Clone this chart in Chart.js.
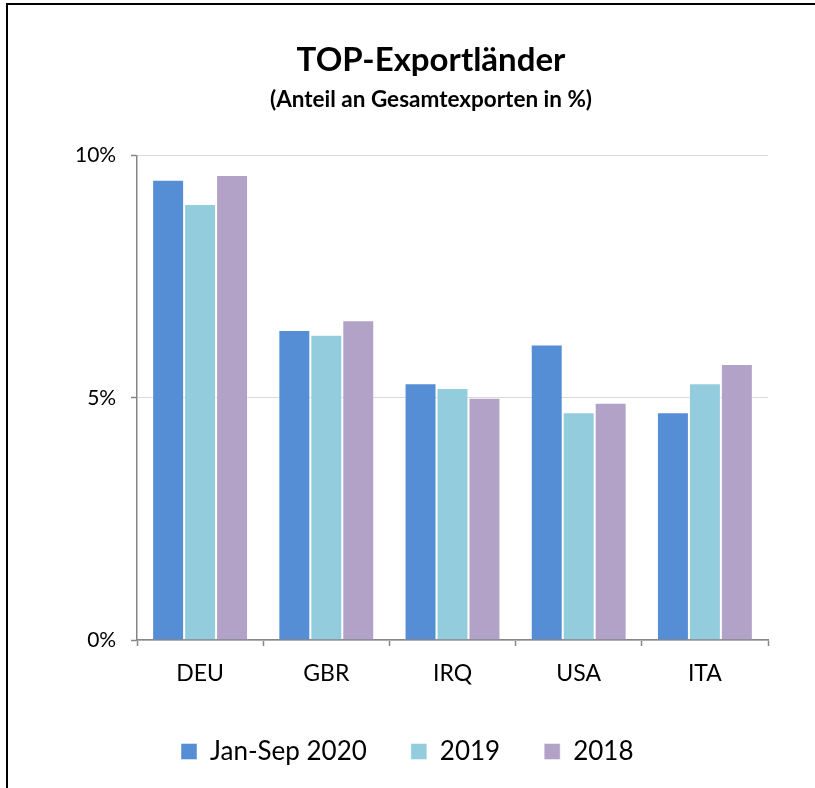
<!DOCTYPE html>
<html>
<head>
<meta charset="utf-8">
<script src="https://cdn.jsdelivr.net/npm/chart.js@4.4.0/dist/chart.umd.min.js"></script>
<style>
    html, body { margin: 0; padding: 0; background: #fff; }
    #wrap { position: relative; width: 815px; height: 788px; overflow: hidden; }
    #frame {
        position: absolute; left: 6px; top: 3px; width: 820px; height: 800px;
        border-left: 2px solid #000; border-top: 2px solid #000;
        pointer-events: none;
    }
    canvas { position: absolute; left: 0; top: 0; }
</style>
</head>
<body>
<div id="wrap">
    <canvas id="chart" width="815" height="788"></canvas>
    <div id="frame"></div>
</div>
<script>
// Kategorien und Werte (Anteil an Gesamtexporten in %)
const countries = ['DEU', 'GBR', 'IRQ', 'USA', 'ITA'];
const seriesNames = ['Jan-Sep 2020', '2019', '2018'];
const values2020 = [9.5, 6.4, 5.3, 6.1, 4.7];
const values2019 = [9.0, 6.3, 5.2, 4.7, 5.3];
const values2018 = [9.6, 6.6, 5.0, 4.9, 5.7];
const barColors = ['#558ED5', '#93CDDD', '#B3A2C7'];

const FONT = "Lato, 'Open Sans', sans-serif";
const axisGray = '#868686';

const ctx = document.getElementById('chart').getContext('2d');

const datasets = [values2020, values2019, values2018].map((vals, i) => ({
    label: seriesNames[i],
    data: vals,
    backgroundColor: barColors[i],
    borderColor: 'rgba(255,255,255,0.45)',
    borderWidth: 1,
    categoryPercentage: 0.76,
    barPercentage: 1.0
}));

new Chart(ctx, {
    type: 'bar',
    data: {
        labels: countries,
        datasets: datasets
    },
    options: {
        responsive: false,
        animation: false,
        layout: {
            // linkes Padding nur damit der Titel mittig wie im Original sitzt
            padding: { left: 94, right: 47, top: 0, bottom: 13.5 }
        },
        scales: {
            x: {
                offset: true,
                grid: {
                    offset: true,
                    drawOnChartArea: false,
                    drawTicks: true,
                    tickLength: 6,
                    tickColor: axisGray,
                    tickWidth: 1.5
                },
                border: { display: true, color: axisGray, width: 1.5 },
                ticks: {
                    color: '#000',
                    padding: 14,
                    font: { family: FONT, size: 23 }
                },
                afterFit: function(scale) { scale.height = 54.5; }
            },
            y: {
                min: 0,
                max: 10,
                ticks: {
                    stepSize: 5,
                    color: '#000',
                    // mirror: sonst werden die Labels auf die schmale Achsenbox beschnitten
                    mirror: true,
                    crossAlign: 'far',
                    padding: -62,
                    font: { family: FONT, size: 21 },
                    callback: function(value) { return value + '%'; }
                },
                grid: {
                    color: '#d9d9d9',
                    lineWidth: 1,
                    tickLength: 6,
                    tickColor: axisGray,
                    tickWidth: 1.5
                },
                border: { display: true, color: axisGray, width: 1.5 },
                afterFit: function(scale) { scale.width = 43; }
            }
        },
        plugins: {
            title: {
                display: true,
                text: 'TOP-Exportländer',
                color: '#000',
                font: { family: FONT, size: 33, weight: 'bold' },
                padding: { top: 41, bottom: 0 }
            },
            subtitle: {
                display: true,
                text: '(Anteil an Gesamtexporten in %)',
                color: '#000',
                font: { family: FONT, size: 22.5, weight: 'bold' },
                padding: { top: 6, bottom: 42 }
            },
            legend: {
                position: 'bottom',
                align: 'start',
                fullSize: false,
                labels: {
                    color: '#000',
                    boxWidth: 16,
                    boxHeight: 16,
                    padding: 44,
                    font: { family: FONT, size: 26 }
                }
            },
            tooltip: { enabled: false }
        }
    }
});
</script>
</body>
</html>
